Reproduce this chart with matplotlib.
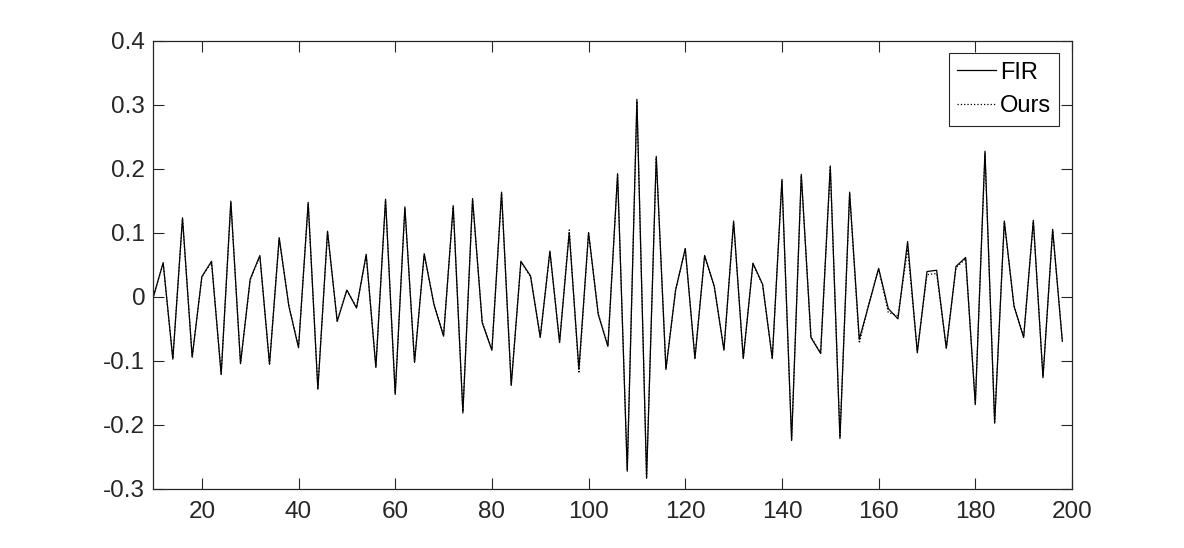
import numpy as np
import matplotlib
matplotlib.use("Agg")
import matplotlib.pyplot as plt

# sample index (every second sample from 10 to 198)
n = np.arange(10, 200, 2)

# FIR filter output
fir = [0.000, 0.053, -0.098, 0.123, -0.095, 0.031, 0.055, -0.122, 0.149, -0.105,
       0.027, 0.064, -0.106, 0.092, -0.015, -0.080, 0.147, -0.145, 0.102, -0.039,
       0.010, -0.018, 0.066, -0.111, 0.152, -0.153, 0.140, -0.103, 0.067, -0.012,
       -0.062, 0.142, -0.182, 0.153, -0.041, -0.084, 0.163, -0.139, 0.055, 0.032,
       -0.064, 0.071, -0.072, 0.100, -0.114, 0.100, -0.028, -0.078, 0.192, -0.273,
       0.308, -0.284, 0.219, -0.114, 0.010, 0.075, -0.097, 0.064, 0.016, -0.084,
       0.118, -0.097, 0.052, 0.019, -0.097, 0.183, -0.225, 0.191, -0.064, -0.089,
       0.204, -0.222, 0.163, -0.067, -0.012, 0.044, -0.019, -0.035, 0.086, -0.088,
       0.039, 0.041, -0.081, 0.047, 0.061, -0.169, 0.227, -0.198, 0.118, -0.015,
       -0.064, 0.119, -0.127, 0.105, -0.070]

# our method, almost identical to the FIR output
ours = [0.002, 0.051, -0.097, 0.121, -0.094, 0.030, 0.054, -0.121, 0.147, -0.104,
        0.026, 0.063, -0.105, 0.090, -0.014, -0.079, 0.145, -0.143, 0.100, -0.038,
        0.010, -0.017, 0.064, -0.110, 0.150, -0.151, 0.138, -0.102, 0.065, -0.011,
        -0.061, 0.140, -0.180, 0.151, -0.040, -0.083, 0.161, -0.137, 0.054, 0.031,
        -0.063, 0.070, -0.071, 0.104, -0.120, 0.099, -0.027, -0.077, 0.190, -0.271,
        0.305, -0.282, 0.217, -0.113, 0.010, 0.074, -0.096, 0.063, 0.015, -0.083,
        0.116, -0.096, 0.051, 0.018, -0.096, 0.181, -0.223, 0.189, -0.063, -0.088,
        0.202, -0.220, 0.161, -0.073, -0.010, 0.043, -0.025, -0.030, 0.074, -0.085,
        0.034, 0.036, -0.080, 0.045, 0.059, -0.167, 0.224, -0.196, 0.116, -0.014,
        -0.063, 0.117, -0.125, 0.103, -0.069]

plt.rcParams["font.family"] = ["Liberation Sans", "DejaVu Sans"]

fig = plt.figure(figsize=(11.84, 5.48), dpi=100)
ax = fig.add_axes([153.5 / 1184, 1 - 488.5 / 548, 918.5 / 1184, 448 / 548])

ax.plot(n, fir, color="black", linewidth=0.9, label="FIR")
ax.plot(n, ours, color="black", linewidth=0.9, linestyle=":", label="Ours")

ax.set_xlim(10, 200)
ax.set_ylim(-0.3, 0.4)
ax.set_xticks(np.arange(20, 201, 20))
ax.set_yticks(np.round(np.arange(-0.3, 0.41, 0.1), 1))
ax.set_yticklabels(["-0.3", "-0.2", "-0.1", "0", "0.1", "0.2", "0.3", "0.4"])

ax.tick_params(direction="in", length=8, width=0.8, labelsize=17.5,
               top=True, right=True, colors="#262626")
ax.tick_params(axis="x", pad=9)
ax.tick_params(axis="y", pad=6)
for s in ax.spines.values():
    s.set_color("#262626")
    s.set_linewidth(0.9)

leg = ax.legend(loc="upper right", bbox_to_anchor=(0.9859, 0.9714),
                fontsize=17, frameon=True, fancybox=False, framealpha=1,
                edgecolor="#262626", borderaxespad=0, borderpad=0.35,
                handlelength=1.65, handletextpad=0.15, labelspacing=0.5)
leg.get_frame().set_linewidth(0.8)

fig.savefig("out.png", dpi=100)
